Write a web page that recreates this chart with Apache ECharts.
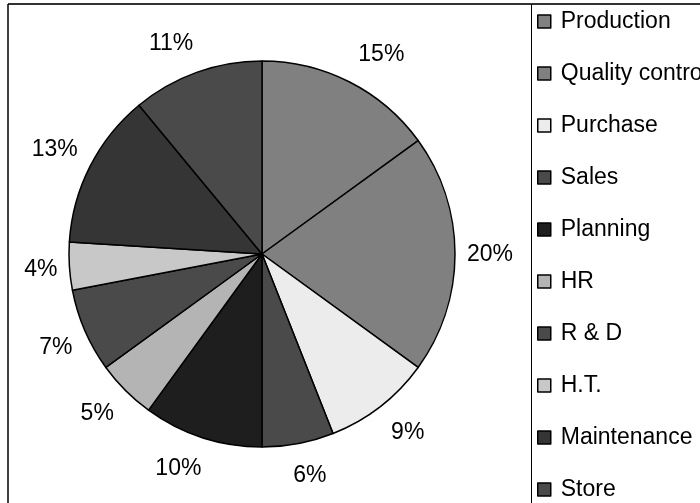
<!DOCTYPE html>
<html>
<head>
<meta charset="utf-8">
<script src="https://cdn.jsdelivr.net/npm/echarts@6/dist/echarts.min.js"></script>
<style>
  html, body { margin: 0; padding: 0; background: #fff; }
  #chart { width: 700px; height: 503px; }
</style>
</head>
<body>
<div id="chart"></div>
<script>
// Department shares (percent), listed clockwise from 12 o'clock
const departments = ['Production', 'Quality control', 'Purchase', 'Sales', 'Planning', 'HR', 'R & D', 'H.T.', 'Maintenance', 'Store'];
const shares = [15, 20, 9, 6, 10, 5, 7, 4, 13, 11];
const sliceColors = ['#808080', '#808080', '#ececec', '#4a4a4a', '#1e1e1e', '#b4b4b4', '#4a4a4a', '#c8c8c8', '#353535', '#4a4a4a'];

const PIE_CX = 262;
const PIE_CY = 254;
const PIE_R = 193;
const FONT = '"Liberation Sans", Arial, sans-serif';

const total = shares.reduce((a, b) => a + b, 0);

// Mid angle of each slice (radians, clockwise from top)
function midAngle(i) {
  let before = 0;
  for (let k = 0; k < i; k++) before += shares[k];
  return (before + shares[i] / 2) / total * Math.PI * 2;
}

function soft(v) { return Math.max(-1, Math.min(1, v * 2.5)); }

const chart = echarts.init(document.getElementById('chart'), null, { renderer: 'canvas' });

chart.setOption({
  animation: false,
  backgroundColor: '#ffffff',
  legend: {
    orient: 'vertical',
    left: 537,
    top: 10,
    height: 560,
    padding: 0,
    itemWidth: 13,
    itemHeight: 13,
    itemGap: 29,
    icon: 'rect',
    selectedMode: false,
    data: departments,
    itemStyle: { borderColor: '#000', borderWidth: 1.5 },
    textStyle: {
      fontFamily: FONT,
      fontSize: 23,
      lineHeight: 22,
      color: '#000',
      padding: [0, 0, 0, 5]
    }
  },
  graphic: [
    { type: 'line', silent: true, shape: { x1: 8, y1: 4, x2: 700, y2: 4 }, style: { stroke: '#333', lineWidth: 2 } },
    { type: 'line', silent: true, shape: { x1: 8, y1: 4, x2: 8, y2: 503 }, style: { stroke: '#000', lineWidth: 1.5 } },
    { type: 'line', silent: true, shape: { x1: 531.5, y1: 4, x2: 531.5, y2: 503 }, style: { stroke: '#000', lineWidth: 1 } }
  ],
  series: [{
    type: 'pie',
    center: [PIE_CX, PIE_CY],
    radius: PIE_R,
    startAngle: 90,
    clockwise: true,
    avoidLabelOverlap: false,
    silent: true,
    emphasis: { disabled: true },
    itemStyle: { borderColor: '#000', borderWidth: 1.5 },
    label: {
      show: true,
      position: 'outside',
      formatter: '{c}%',
      fontFamily: FONT,
      fontSize: 23,
      color: '#000'
    },
    labelLine: { show: false },
    // Percent labels sit just outside the rim, pushed out a little more near top and bottom
    labelLayout: function (params) {
      const a = midAngle(params.dataIndex);
      const s = Math.sin(a), c = Math.cos(a);
      const w = params.labelRect.width;
      const d = PIE_R + 12 + 9 * c * c;
      return {
        x: PIE_CX + d * s + (w / 2) * soft(s),
        y: PIE_CY - d * c + 11 * soft(-c) + 1,
        align: 'center',
        verticalAlign: 'middle'
      };
    },
    data: departments.map((name, i) => ({
      name: name,
      value: shares[i],
      itemStyle: { color: sliceColors[i] }
    }))
  }]
});
</script>
</body>
</html>
